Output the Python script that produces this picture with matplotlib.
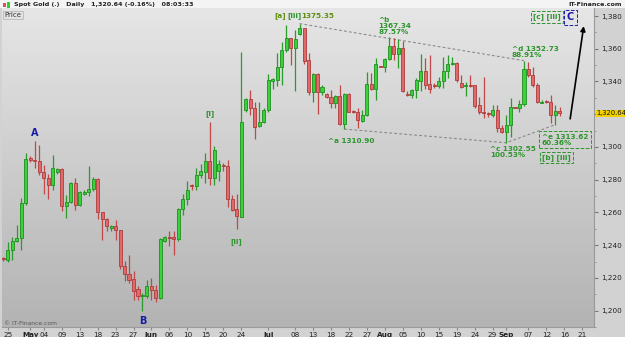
import numpy as np
import matplotlib
matplotlib.use("Agg")
import matplotlib.pyplot as plt

# daily candles, Sunday bars included
opens = [1232.0, 1231.1, 1236.8, 1242.3, 1244.3, 1265.5, 1293.2, 1292.3, 1291.5, 1284.8,
         1281.0, 1276.5, 1284.8, 1286.6, 1263.9, 1266.3, 1277.9, 1264.7, 1271.2, 1272.4,
         1274.4, 1280.5, 1260.2, 1256.1, 1250.5, 1251.5, 1249.4, 1227.1, 1222.4, 1219.5,
         1213.0, 1209.0, 1208.7, 1214.8, 1212.8, 1207.5, 1242.3, 1244.7, 1244.7, 1243.5,
         1261.8, 1268.4, 1276.9, 1276.3, 1283.0, 1285.0, 1291.5, 1281.3, 1285.4, 1289.1,
         1288.5, 1268.3, 1262.0, 1257.5, 1322.6, 1329.3, 1323.6, 1312.5, 1315.1, 1322.6,
         1340.3, 1340.9, 1349.1, 1359.2, 1366.4, 1360.7, 1368.8, 1372.5, 1353.1, 1333.4,
         1344.4, 1333.4, 1332.2, 1330.8, 1327.1, 1331.2, 1313.9, 1332.2, 1322.0, 1321.6,
         1316.1, 1319.6, 1338.5, 1335.2, 1349.5, 1349.1, 1353.7, 1361.7, 1356.6, 1360.3,
         1332.4, 1331.8, 1334.8, 1340.5, 1346.4, 1338.5, 1337.5, 1337.3, 1340.3, 1346.4,
         1350.5, 1351.1, 1338.9, 1337.3, 1337.9, 1337.9, 1325.7, 1321.4, 1320.2, 1319.6,
         1322.6, 1311.4, 1309.0, 1313.5, 1324.5, 1324.1, 1326.1, 1347.6, 1344.0, 1337.9,
         1327.1, 1327.9, 1327.7, 1319.6, 1322.0]
highs = [1233.0, 1241.9, 1245.0, 1252.5, 1269.0, 1296.2, 1294.2, 1303.7, 1301.3, 1289.0,
         1283.4, 1295.2, 1287.1, 1287.1, 1270.4, 1278.5, 1281.0, 1272.8, 1273.8, 1288.5,
         1281.4, 1281.0, 1260.2, 1256.5, 1252.5, 1255.5, 1249.4, 1230.5, 1233.8, 1224.0,
         1214.8, 1210.8, 1218.9, 1219.9, 1215.9, 1244.3, 1245.4, 1248.8, 1248.8, 1262.6,
         1271.2, 1278.9, 1277.3, 1287.1, 1289.5, 1296.4, 1315.1, 1300.3, 1292.1, 1290.1,
         1292.1, 1270.8, 1271.2, 1358.2, 1329.7, 1334.8, 1327.3, 1327.3, 1323.6, 1344.4,
         1341.9, 1357.2, 1364.3, 1374.5, 1366.8, 1371.4, 1375.35, 1372.9, 1357.2, 1345.0,
         1345.0, 1337.9, 1332.8, 1334.8, 1331.8, 1337.9, 1332.8, 1332.8, 1322.6, 1323.6,
         1322.6, 1346.0, 1345.0, 1354.6, 1349.7, 1354.6, 1367.34, 1366.4, 1366.0, 1364.7,
         1334.2, 1335.4, 1342.0, 1356.6, 1354.6, 1356.2, 1338.9, 1343.0, 1355.2, 1356.2,
         1355.2, 1352.1, 1344.0, 1339.9, 1344.0, 1337.9, 1330.8, 1343.0, 1321.6, 1325.7,
         1325.7, 1313.5, 1319.6, 1329.7, 1324.7, 1328.7, 1352.73, 1352.1, 1349.1, 1338.9,
         1328.7, 1328.7, 1331.8, 1325.7, 1324.7]
lows = [1230.5, 1229.7, 1230.7, 1241.9, 1237.2, 1264.7, 1291.0, 1287.0, 1283.0, 1271.2,
        1268.4, 1273.8, 1283.6, 1261.0, 1256.5, 1265.7, 1261.6, 1263.9, 1270.4, 1269.8,
        1272.8, 1255.9, 1243.3, 1248.4, 1248.8, 1243.3, 1225.6, 1217.9, 1216.9, 1206.7,
        1206.7, 1200.0, 1207.7, 1206.7, 1205.3, 1207.1, 1241.9, 1239.3, 1234.2, 1242.3,
        1258.6, 1264.7, 1273.8, 1273.8, 1281.0, 1278.0, 1276.5, 1276.5, 1279.3, 1285.4,
        1263.6, 1261.0, 1250.0, 1257.1, 1321.6, 1319.6, 1304.9, 1311.9, 1314.5, 1321.6,
        1335.4, 1337.5, 1337.9, 1358.2, 1350.1, 1334.2, 1368.4, 1350.5, 1331.8, 1327.3,
        1320.0, 1331.8, 1329.7, 1323.6, 1324.1, 1313.5, 1310.9, 1321.2, 1320.6, 1311.4,
        1315.5, 1319.2, 1334.8, 1328.7, 1348.7, 1346.0, 1353.0, 1353.0, 1348.0, 1333.8,
        1331.4, 1330.2, 1329.7, 1334.2, 1335.4, 1332.8, 1335.8, 1336.3, 1335.8, 1342.0,
        1350.1, 1339.9, 1336.3, 1331.4, 1336.5, 1324.1, 1320.0, 1317.5, 1318.0, 1318.4,
        1309.4, 1308.4, 1302.55, 1306.0, 1323.7, 1321.6, 1325.3, 1343.0, 1336.9, 1326.7,
        1326.7, 1326.7, 1314.5, 1313.62, 1319.2]
closes = [1231.3, 1237.2, 1242.3, 1244.3, 1265.5, 1292.5, 1292.1, 1291.5, 1284.6, 1281.0,
          1276.5, 1287.1, 1286.6, 1263.9, 1266.3, 1277.9, 1264.7, 1272.4, 1272.4, 1274.4,
          1280.5, 1260.2, 1256.1, 1251.5, 1251.5, 1249.0, 1227.1, 1222.4, 1218.9, 1212.2,
          1208.7, 1209.5, 1214.8, 1212.8, 1207.5, 1243.9, 1245.1, 1244.3, 1243.5, 1262.2,
          1268.4, 1273.8, 1276.3, 1283.0, 1285.4, 1291.5, 1281.3, 1298.2, 1289.5, 1288.1,
          1268.3, 1261.6, 1257.9, 1315.1, 1329.3, 1324.1, 1311.9, 1315.1, 1322.6, 1340.9,
          1341.5, 1349.1, 1359.2, 1366.4, 1360.7, 1366.0, 1372.5, 1352.7, 1333.4, 1344.4,
          1333.4, 1336.9, 1330.4, 1327.1, 1331.2, 1313.9, 1332.2, 1321.6, 1321.6, 1316.3,
          1319.6, 1338.3, 1335.2, 1350.5, 1349.1, 1353.7, 1361.7, 1356.6, 1360.3, 1334.2,
          1332.0, 1334.8, 1340.9, 1346.4, 1337.9, 1335.4, 1337.1, 1340.3, 1346.4, 1350.7,
          1350.9, 1340.7, 1336.9, 1337.7, 1337.5, 1325.3, 1321.2, 1321.0, 1320.0, 1322.6,
          1311.4, 1309.0, 1313.5, 1324.7, 1324.1, 1326.1, 1347.6, 1344.0, 1337.9, 1327.3,
          1327.5, 1327.5, 1319.6, 1322.0, 1320.64]

tick_pos = [1, 6, 9, 13, 17, 21, 25, 29, 33, 37, 41, 45, 49, 53, 59, 65, 69, 73, 77, 81,
            85, 89, 93, 97, 101, 105, 109, 112, 117, 121, 125, 129]
tick_labels = ["25", "May", "04", "09", "13", "18", "23", "27", "Jun", "06", "10", "15",
               "20", "24", "Jul", "08", "13", "18", "22", "27", "Aug", "05", "10", "15",
               "19", "24", "29", "Sep", "07", "12", "16", "21"]
months = ["May", "Jun", "Jul", "Aug", "Sep"]
price_ticks = [1200, 1220, 1240, 1260, 1280, 1300, 1320, 1340, 1360, 1380]
last_price = 1320.64

# wave points (candle index, price)
upper_line = [(66, 1375.35), (116, 1352.73)]
lower_line = [(76, 1310.90), (112, 1302.55), (123, 1313.62)]

W, H = 625, 337
fig = plt.figure(figsize=(W / 100, H / 100), dpi=100)
fig.patch.set_facecolor("#d2d2d2")

# title strip
fig.patches.append(plt.Rectangle((0, 1 - 8 / H), 1, 8 / H, transform=fig.transFigure,
                                 fc="#f4f4f4", ec="none", zorder=0))
fig.text(14 / W, 1 - 4.5 / H, "Spot Gold (.)   Daily   1,320.64 (-0.16%)   08:03:33",
         fontsize=4.6, fontweight="bold", va="center", ha="left", color="#222222")
fig.text(622 / W, 1 - 4.5 / H, "IT-Finance.com", fontsize=4.6, fontweight="bold",
         va="center", ha="right", color="#222222")
fig.patches.append(plt.Rectangle((3 / W, 1 - 7 / H), 3 / W, 4 / H, transform=fig.transFigure,
                                 fc="#e05050", ec="none"))
fig.patches.append(plt.Rectangle((7 / W, 1 - 8 / H), 3 / W, 6 / H, transform=fig.transFigure,
                                 fc="#33cc33", ec="none"))

ax = fig.add_axes([2 / W, (H - 327) / H, (594 - 2) / W, (327 - 8) / H])
x0, x1 = -0.3, 131.6
y0, y1 = 1190.3, 1384.9
ax.set_xlim(x0, x1)
ax.set_ylim(y0, y1)

# background gradient
grad = np.linspace(0, 1, 256).reshape(-1, 1)
ax.imshow(grad, extent=[x0, x1, y0, y1], aspect="auto", origin="upper",
          cmap=matplotlib.colors.LinearSegmentedColormap.from_list("bg", ["#e6e6e6", "#b3b3b3"]),
          zorder=0)

o = np.array(opens)
h = np.array(highs)
l = np.array(lows)
c = np.array(closes)
idx = np.arange(len(o))
up = c >= o

body_lo = np.minimum(o, c)
body_h = np.maximum(np.abs(c - o), 0.6)
wick_col = np.where(up, "#2a9a2a", "#c04848")
ax.vlines(idx, l, h, colors=wick_col, lw=0.9, zorder=2)
ax.bar(idx[up], body_h[up], bottom=body_lo[up], width=0.68, color="#3ad23a",
       edgecolor="#1f8f1f", lw=0.6, zorder=3)
ax.bar(idx[~up], body_h[~up], bottom=body_lo[~up], width=0.68, color="#e06a6a",
       edgecolor="#b03a3a", lw=0.6, zorder=3)

# dashed channel lines
ax.plot([p[0] for p in upper_line], [p[1] for p in upper_line], ls=(0, (2.5, 2)),
        color="#8a8a8a", lw=0.8, zorder=1)
ax.plot([p[0] for p in lower_line], [p[1] for p in lower_line], ls=(0, (2.5, 2)),
        color="#8a8a8a", lw=0.8, zorder=1)

# arrow
ax.annotate("", xy=(129.4, 1375.5), xytext=(126.2, 1315.5),
            arrowprops=dict(arrowstyle="-|>", color="black", lw=1.2, mutation_scale=7),
            zorder=5)

green = "#2f952f"
olive = "#5f8f10"
blue = "#1a1aa8"
fs = 5.2
ax.text(60.4, 1380.0, "[a]", color=olive, fontsize=fs, fontweight="bold", ha="left", va="center")
ax.text(63.2, 1380.0, "[iii]", color=green, fontsize=fs, fontweight="bold", ha="left", va="center")
ax.text(66.4, 1380.0, "1375.35", color=olive, fontsize=fs, fontweight="bold", ha="left", va="center")
ax.text(83.5, 1374.0, "^b\n1367.34\n87.57%", color=green, fontsize=fs, fontweight="bold",
        ha="left", va="center", linespacing=1.0)
ax.text(113.3, 1358.0, "^d 1352.73\n88.91%", color=green, fontsize=fs, fontweight="bold",
        ha="left", va="center", linespacing=1.0)
ax.text(72.3, 1303.4, "^a 1310.90", color=green, fontsize=fs, fontweight="bold",
        ha="left", va="center")
ax.text(108.4, 1296.7, "^c 1302.55\n100.53%", color=green, fontsize=fs, fontweight="bold",
        ha="left", va="center", linespacing=1.0)
ax.text(120.0, 1304.3, "^e 1313.62\n60.36%", color=green, fontsize=fs, fontweight="bold",
        ha="left", va="center", linespacing=1.0,
        bbox=dict(boxstyle="square,pad=0.35", fc="none", ec=green, ls="--", lw=0.7))
ax.text(123.3, 1293.4, "[b] [iii]", color=green, fontsize=fs, fontweight="bold",
        ha="center", va="center",
        bbox=dict(boxstyle="square,pad=0.3", fc="none", ec=green, ls="--", lw=0.7))
ax.text(121.2, 1379.4, "[c] [iii]", color=green, fontsize=fs, fontweight="bold",
        ha="center", va="center",
        bbox=dict(boxstyle="square,pad=0.3", fc="none", ec=green, ls="--", lw=0.7))
ax.text(126.3, 1379.1, "C", color=blue, fontsize=7, fontweight="bold",
        ha="center", va="center",
        bbox=dict(boxstyle="square,pad=0.3", fc="none", ec=blue, ls="--", lw=0.7))
ax.text(46.0, 1320.2, "[i]", color=green, fontsize=fs, fontweight="bold", ha="center", va="center")
ax.text(52.0, 1242.4, "[ii]", color=green, fontsize=fs, fontweight="bold", ha="center", va="center")
ax.text(7.06, 1308.6, "A", color=blue, fontsize=7, fontweight="bold", ha="center", va="center")
ax.text(31.0, 1193.5, "B", color=blue, fontsize=7, fontweight="bold", ha="center", va="center")
ax.text(0.2, 1192.0, "\u00a9 IT-Finance.com", color="#555555", fontsize=4.3,
        ha="left", va="center")
ax.text(0.2, 1382.5, "Price", color="#333333", fontsize=5, ha="left", va="top",
        bbox=dict(boxstyle="square,pad=0.2", fc="#e2e2e2", ec="#b0b0b0", lw=0.5))

# axes styling
for s in ["top", "left"]:
    ax.spines[s].set_visible(False)
ax.spines["right"].set_color("#9a9a9a")
ax.spines["bottom"].set_color("#9a9a9a")
ax.yaxis.tick_right()
ax.set_yticks(price_ticks)
# the 1,320 label sits under the last-price tag
ax.set_yticklabels(["" if p == 1320 else f"{p:,}" for p in price_ticks])
ax.set_yticks(np.arange(1190, 1385, 10), minor=True)
ax.tick_params(axis="y", which="major", labelsize=5.2, length=3, color="#777777",
               labelcolor="#222222", pad=2)
ax.tick_params(axis="y", which="minor", length=1.5, color="#888888")
ax.set_xticks(tick_pos)
ax.set_xticklabels(tick_labels)
ax.tick_params(axis="x", labelsize=5.2, length=2, color="#888888", labelcolor="#222222", pad=1.5)
for t in ax.get_xticklabels():
    if t.get_text() in months:
        t.set_fontweight("bold")

# last price tag
ax.text(1.004, (last_price - y0) / (y1 - y0), "1,320.64", transform=ax.transAxes,
        fontsize=4.9, color="#111111", ha="left", va="center",
        bbox=dict(boxstyle="square,pad=0.12", fc="#f0d000", ec="none"), clip_on=False)

fig.savefig("out.png", dpi=100, facecolor=fig.get_facecolor())
